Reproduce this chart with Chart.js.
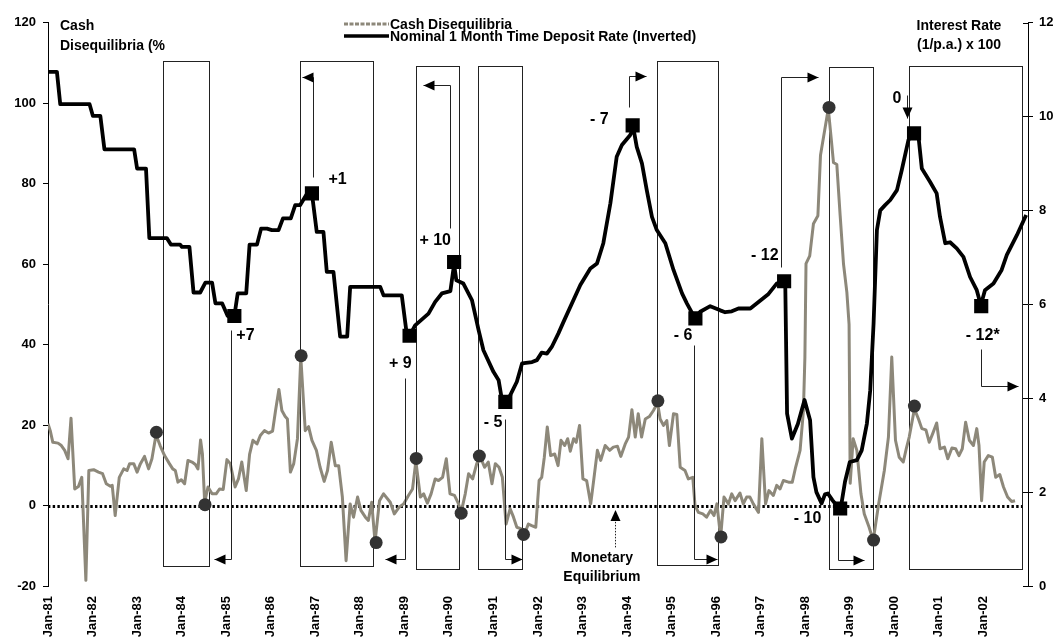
<!DOCTYPE html>
<html>
<head>
<meta charset="utf-8">
<script src="https://cdn.jsdelivr.net/npm/chart.js@4.4.1/dist/chart.umd.min.js"></script>
<style>
  html, body { margin: 0; padding: 0; background: #fff; }
  canvas { display: block; }
</style>
</head>
<body>
<canvas id="chart" width="1055" height="641"></canvas>
<script>
// x values are months counted from Jan-81
const yearLabels = ['Jan-81','Jan-82','Jan-83','Jan-84','Jan-85','Jan-86','Jan-87','Jan-88','Jan-89','Jan-90','Jan-91',
  'Jan-92','Jan-93','Jan-94','Jan-95','Jan-96','Jan-97','Jan-98','Jan-99','Jan-00','Jan-01','Jan-02'];

// Cash Disequilibria (%), left axis
const cashMonths = [0,0.6,1.3,2.7,3.6,4.5,5.4,6.2,7.2,8.2,9.1,10.2,11.0,12.3,13.6,14.7,15.7,16.8,17.3,18.1,19.2,20.4,21.3,22.0,23.1,24.0,24.9,26.0,27.1,28.0,
  29.1,30.2,31.4,32.7,33.6,34.3,35.0,35.9,36.8,37.7,38.8,39.7,40.4,41.1,41.6,42.2,43.1,44.2,45.3,46.2,47.2,48.2,49.1,50.4,51.3,52.2,53.4,54.3,55.2,56.3,
  57.2,58.3,59.4,60.5,61.3,62.2,63.0,63.9,64.5,65.3,66.2,67.2,68.1,69.3,70.2,71.1,72.3,73.3,74.4,75.3,76.3,77.4,78.3,79.3,80.3,81.4,82.3,83.4,84.3,85.5,
  86.3,87.2,88.1,89.3,90.4,92.2,93.3,94.6,95.8,97.1,98.2,99.1,100.3,101.2,102.2,103.2,104.3,105.2,106.3,107.3,108.3,109.5,110.6,111.3,112.4,113.3,114.4,115.5,116.4,117.6,
  118.6,119.6,120.5,121.5,122.4,123.4,124.5,125.4,126.3,127.5,128.4,129.4,130.3,131.4,132.3,133.0,133.7,134.5,135.4,136.5,137.4,138.2,139.2,140.0,140.7,141.6,142.3,143.2,144.1,145.1,
  146.2,147.1,148.0,148.9,150.1,151.3,152.3,153.4,154.3,155.5,156.4,157.3,158.2,159.0,159.9,160.9,162.0,163.1,164.2,164.9,165.8,166.7,167.4,168.5,169.4,170.3,171.6,172.5,173.7,174.3,
  175.2,176.4,177.4,178.5,179.4,180.2,181.2,182.1,183.3,184.2,185.1,186.4,187.3,188.2,189.1,190.0,191.4,192.3,193.3,194.2,195.4,196.3,197.2,198.1,199.5,200.5,201.4,202.6,203.5,203.9,
  204.2,205.2,206.2,207.4,208.1,208.9,210.2,211.0,211.6,212.5,213.4,214.3,215.2,215.8,216.1,216.9,217.9,219.0,219.9,221.2,222.3,223.7,225.3,226.4,227.3,228.3,229.3,230.4,231.2,232.0,
  233.4,234.5,235.4,236.5,237.4,238.3,239.4,240.3,241.5,242.4,243.5,244.5,245.4,246.3,247.2,248.2,249.3,250.2,250.8,251.5,252.2,253.3,254.4,255.3,256.4,257.4,258.5,259.6,260.5];
const cashValues = [20.3,18.6,15.7,15.5,14.9,13.7,11.6,21.7,4.1,4.7,7.0,-18.6,8.7,8.9,8.3,7.9,5.4,4.8,5.0,-2.5,7.0,9.1,8.7,10.4,10.4,8.3,10.4,12.2,9.1,11.6,
  17.6,14.9,12.4,10.4,9.1,8.7,5.8,6.4,5.4,11.2,10.8,10.2,9.1,16.3,12.8,0.8,4.6,2.9,2.9,4.1,4.0,11.4,10.4,4.6,6.6,10.8,3.7,12.7,16.2,15.3,
  17.4,18.6,18.0,18.5,23.6,28.8,23.6,22.1,21.5,8.3,10.4,16.6,36.9,18.6,19.6,16.2,13.7,9.5,6.0,8.7,15.7,9.9,9.9,2.1,-13.7,0.4,-2.9,2.1,-1.2,-2.9,
  -3.7,0.8,-9.1,1.2,2.9,0.8,-2.1,-0.4,0.4,2.5,4.1,11.0,2.1,2.9,0.6,2.9,6.6,6.2,7.0,11.6,2.9,2.5,0.4,-1.7,2.9,7.9,6.6,10.4,12.2,9.5,
  10.8,5.4,10.4,9.5,7.0,-4.6,-0.8,-2.9,-5.4,-5.8,-7.0,-4.6,-5.0,-5.4,6.2,7.0,12.0,19.5,12.4,12.8,9.9,16.2,14.9,16.6,13.5,16.6,15.7,19.9,6.6,6.2,
  0.4,7.0,13.7,11.2,14.9,13.7,14.5,14.7,12.2,15.3,17.0,23.8,17.0,22.8,17.0,21.5,22.1,23.6,25.5,21.5,19.9,21.1,14.9,22.8,22.6,9.5,8.7,6.6,7.0,0.0,
  -1.7,-2.1,-2.9,-1.2,-2.5,0.4,-7.9,2.1,0.4,2.9,1.2,3.1,0.4,2.1,2.1,0.4,-1.7,16.6,0.4,3.7,2.5,5.0,4.1,6.2,5.8,5.8,9.5,13.7,23.6,36.9,
  60.1,62.0,70.0,72.0,87.0,91.4,98.6,91.0,85.2,84.7,72.0,60.0,53.0,45.0,5.5,16.6,13.7,2.9,-2.1,-5.4,-8.7,0.0,8.7,17.0,36.9,16.2,12.0,10.8,14.1,17.0,
  24.0,21.5,19.1,18.8,15.7,17.8,20.5,14.1,14.5,11.6,14.3,14.1,12.4,14.1,20.7,16.2,14.9,19.1,14.9,1.2,10.8,12.4,12.0,7.0,7.7,4.6,2.1,1.0,1.2];

// Nominal 1 month time deposit rate, inverted: (1/p.a.) x 100, right axis
const rateMonths = [0,2.4,3.3,11.2,12.1,14.1,15.2,23.2,24.0,26.4,27.3,32.0,33.1,35.6,36.1,38.1,39.2,41.0,42.4,44.2,45.1,46.9,48.4,50.2,51.1,53.4,54.3,56.3,57.4,59.0,
  60.3,62.1,63.3,65.4,66.6,67.9,69.8,71.1,72.4,74.2,75.1,76.9,78.7,80.6,81.4,89.5,90.4,95.3,96.7,97.4,98.9,102.5,104.3,106.1,108.4,108.8,109.4,110.0,111.9,114.2,
  116.0,117.3,120.0,121.4,122.3,123.2,124.5,126.3,127.7,130.4,131.7,133.0,134.4,135.7,137.5,138.9,143.4,146.1,147.9,149.6,151.5,153.2,154.6,156.8,157.7,158.6,160.0,161.3,162.7,164.0,
  166.3,168.5,170.8,172.1,174.3,175.7,178.4,181.1,182.4,184.2,186.0,189.2,191.4,194.1,196.3,198.6,199.1,200.4,202.0,203.8,205.3,206.2,207.0,208.4,209.3,210.1,211.3,212.4,213.6,214.7,
  216.0,217.9,219.2,220.6,221.5,222.4,223.3,224.2,225.5,226.9,228.7,230.0,231.8,233.1,234.0,234.5,235.4,237.6,239.4,240.3,241.7,243.0,244.8,246.6,248.4,250.2,251.3,252.4,254.7,256.9,
  258.3,261.0,263.5];
const rateValues = [10.95,10.95,10.26,10.26,10.01,10.01,9.30,9.30,8.89,8.89,7.41,7.41,7.27,7.27,7.22,7.22,6.25,6.25,6.46,6.46,6.02,6.02,5.75,5.75,6.23,6.23,7.27,7.27,7.61,7.61,
  7.58,7.58,7.83,7.83,8.11,8.11,8.36,8.36,7.54,7.54,6.69,6.69,5.31,5.31,6.37,6.37,6.19,6.19,5.33,5.33,5.55,5.80,6.05,6.23,6.28,6.51,6.85,6.51,6.44,6.09,
  5.45,5.02,4.56,4.38,3.96,3.92,4.06,4.35,4.74,4.77,4.81,4.97,4.95,5.09,5.38,5.63,6.41,6.76,6.87,7.30,8.15,9.14,9.39,9.60,9.75,9.35,9.00,8.43,7.86,7.58,
  7.30,6.73,6.23,6.02,5.70,5.84,5.96,5.87,5.83,5.85,5.91,5.91,6.05,6.22,6.44,6.50,3.67,3.14,3.45,3.96,3.53,2.32,2.00,1.76,1.95,1.97,1.83,1.72,1.68,2.22,
  2.64,2.68,2.89,3.46,4.17,5.59,7.58,8.00,8.11,8.22,8.43,8.86,9.50,9.67,9.64,9.57,8.89,8.61,8.36,7.86,7.30,7.32,7.19,7.01,6.58,6.30,5.98,6.30,6.44,6.73,
  7.05,7.47,7.90];

// turning points
const cashTurnMonths = [29.2,42.3,68.2,88.4,99.2,111.3,116.2,128.1,164.3,181.3,210.4,222.4,233.4];
const cashTurnValues = [18.2,0.2,37.2,-9.2,11.7,-1.9,12.3,-7.2,26.0,-7.8,98.9,-8.6,24.7];
const rateTurnMonths = [50.2,71.1,97.4,109.4,123.2,157.5,174.4,198.3,213.4,233.3,251.4];
const rateTurnValues = [5.75,8.36,5.33,6.90,3.92,9.81,5.70,6.49,1.65,9.64,5.96];

// lead / lag annotations, in axis units (month, left-axis value)
const boxes = [
  [30.9, 43.5, 110.4, -15.1], [67.9, 87.5, 110.4, -15.1], [99.1, 110.7, 109.3, -15.85],
  [115.9, 127.8, 109.3, -15.85], [164.0, 180.5, 110.4, -14.7], [210.5, 222.3, 109.0, -15.85],
  [231.9, 262.4, 109.3, -15.85]
];
const arrows = [
  [[49.4, 43.5], [49.4, -13.4], [44.6, -13.4]],
  [[71.5, 81.6], [71.5, 106.5], [68.5, 106.5]],
  [[108.4, 69.0], [108.4, 104.4], [101.0, 104.4]],
  [[96.2, 31.8], [96.2, -13.4], [90.7, -13.4]],
  [[123.2, 21.4], [123.2, -13.4], [127.7, -13.4]],
  [[156.4, 99.0], [156.4, 106.7], [161.1, 106.7]],
  [[173.9, 39.8], [173.9, -13.4], [180.2, -13.4]],
  [[197.4, 59.2], [197.4, 106.5], [207.5, 106.5]],
  [[231.5, 102.0], [231.5, 96.3]],
  [[212.7, -2.5], [212.7, -13.5], [219.7, -13.5]],
  [[251.4, 39.0], [251.4, 29.7], [261.4, 29.7]]
];
const notes = [
  ['+7', 53.2, 42.3], ['+1', 78.0, 81.0], ['+ 10', 104.3, 65.9], ['+ 9', 94.9, 35.3],
  ['- 5', 119.9, 20.5], ['- 7', 148.5, 96.0], ['- 6', 171.1, 42.3], ['- 12', 193.1, 62.2],
  ['0', 228.7, 101.2], ['- 10', 204.6, -3.2], ['- 12*', 251.8, 42.3]
];
const equilibriumNote = ['Monetary', 'Equilibrium'];

const FONT = "'Liberation Sans', Arial, sans-serif";

function toXY(ms, vs) {
  return ms.map((m, i) => ({ x: m, y: vs[i] }));
}

function arrowHead(ctx, x0, y0, x1, y1) {
  const a = Math.atan2(y1 - y0, x1 - x0);
  const len = 11, half = 5;
  ctx.beginPath();
  ctx.moveTo(x1, y1);
  ctx.lineTo(x1 - len * Math.cos(a) + half * Math.sin(a), y1 - len * Math.sin(a) - half * Math.cos(a));
  ctx.lineTo(x1 - len * Math.cos(a) - half * Math.sin(a), y1 - len * Math.sin(a) + half * Math.cos(a));
  ctx.closePath();
  ctx.fill();
}

const notesPlugin = {
  id: 'notes',
  beforeDatasetsDraw(chart) {
    const { ctx, scales: { x, y } } = chart;
    ctx.save();
    ctx.strokeStyle = '#222';
    ctx.lineWidth = 1;
    boxes.forEach(b => {
      const x0 = Math.round(x.getPixelForValue(b[0])) + 0.5;
      const x1 = Math.round(x.getPixelForValue(b[1])) + 0.5;
      const y0 = Math.round(y.getPixelForValue(b[2])) + 0.5;
      const y1 = Math.round(y.getPixelForValue(b[3])) + 0.5;
      ctx.strokeRect(x0, y0, x1 - x0, y1 - y0);
    });
    // monetary equilibrium (zero) line
    const zy = Math.round(y.getPixelForValue(0)) + 0.5;
    ctx.strokeStyle = '#000';
    ctx.lineWidth = 3;
    ctx.setLineDash([2.4, 2.3]);
    ctx.beginPath();
    ctx.moveTo(x.getPixelForValue(0), zy);
    ctx.lineTo(x.getPixelForValue(262.5), zy);
    ctx.stroke();
    ctx.restore();
  },
  afterDatasetsDraw(chart) {
    const { ctx, scales: { x, y } } = chart;
    ctx.save();
    ctx.strokeStyle = '#222';
    ctx.fillStyle = '#000';
    ctx.lineWidth = 1;
    arrows.forEach(pts => {
      const p = pts.map(q => [Math.round(x.getPixelForValue(q[0])) + 0.5, Math.round(y.getPixelForValue(q[1])) + 0.5]);
      ctx.beginPath();
      ctx.moveTo(p[0][0], p[0][1]);
      for (let i = 1; i < p.length; i++) ctx.lineTo(p[i][0], p[i][1]);
      ctx.stroke();
      const n = p.length;
      arrowHead(ctx, p[n - 2][0], p[n - 2][1], p[n - 1][0], p[n - 1][1]);
    });
    ctx.font = 'bold 16px ' + FONT;
    ctx.textAlign = 'center';
    ctx.textBaseline = 'middle';
    notes.forEach(n => ctx.fillText(n[0], x.getPixelForValue(n[1]), y.getPixelForValue(n[2])));

    // monetary equilibrium pointer
    const ex = Math.round(x.getPixelForValue(152.8)) + 0.5;
    ctx.setLineDash([1.5, 1.5]);
    ctx.beginPath();
    ctx.moveTo(ex, y.getPixelForValue(-10.4));
    ctx.lineTo(ex, y.getPixelForValue(-3.5));
    ctx.stroke();
    ctx.setLineDash([]);
    arrowHead(ctx, ex, y.getPixelForValue(-10.4), ex, y.getPixelForValue(-1.1));
    ctx.font = 'bold 14px ' + FONT;
    ctx.fillText(equilibriumNote[0], x.getPixelForValue(149.2), y.getPixelForValue(-13.1));
    ctx.fillText(equilibriumNote[1], x.getPixelForValue(149.2), y.getPixelForValue(-17.7));
    ctx.restore();
  },
  afterDraw(chart) {
    const { ctx, scales: { y1 } } = chart;
    ctx.save();
    // inner half of the right axis tick marks
    ctx.strokeStyle = '#000';
    ctx.lineWidth = 1;
    y1.ticks.forEach(t => {
      const py = Math.round(y1.getPixelForValue(t.value)) + 0.5;
      ctx.beginPath();
      ctx.moveTo(y1.left - 5, py);
      ctx.lineTo(y1.left, py);
      ctx.stroke();
    });
    // axis titles
    ctx.fillStyle = '#000';
    ctx.font = 'bold 14px ' + FONT;
    ctx.textBaseline = 'middle';
    ctx.textAlign = 'left';
    ctx.fillText('Cash', 60, 26);
    ctx.fillText('Disequilibria (%', 60, 46);
    ctx.textAlign = 'center';
    ctx.fillText('Interest Rate', 959, 26);
    ctx.fillText('(1/p.a.) x 100', 959, 45);
    // legend
    const ds = chart.data.datasets;
    ctx.textAlign = 'left';
    ctx.lineWidth = 3;
    ctx.strokeStyle = ds[3].borderColor;
    ctx.setLineDash([4, 1.5]);
    ctx.beginPath(); ctx.moveTo(344, 24); ctx.lineTo(389, 24); ctx.stroke();
    ctx.setLineDash([]);
    ctx.lineWidth = 3.5;
    ctx.strokeStyle = ds[1].borderColor;
    ctx.beginPath(); ctx.moveTo(344, 36); ctx.lineTo(389, 36); ctx.stroke();
    ctx.fillText(ds[3].label, 390, 25);
    ctx.fillText(ds[1].label, 390, 37.5);
    ctx.restore();
  }
};

const tickFont = { family: FONT, size: 13, weight: 'bold' };

new Chart(document.getElementById('chart'), {
  type: 'line',
  data: {
    datasets: [
      {
        label: 'Rate turning points',
        data: toXY(rateTurnMonths, rateTurnValues),
        yAxisID: 'y1',
        showLine: false,
        pointStyle: 'rect',
        pointRadius: 10,
        pointBackgroundColor: '#000',
        pointBorderWidth: 0,
      },
      {
        label: 'Nominal 1 Month Time Deposit Rate (Inverted)',
        data: toXY(rateMonths, rateValues),
        yAxisID: 'y1',
        borderColor: '#000',
        borderWidth: 3.8,
        borderJoinStyle: 'round',
        pointRadius: 0,
        tension: 0,
      },
      {
        label: 'Cash turning points',
        data: toXY(cashTurnMonths, cashTurnValues),
        yAxisID: 'y',
        showLine: false,
        pointStyle: 'circle',
        pointRadius: 6.5,
        pointBackgroundColor: '#333',
        pointBorderWidth: 0,
      },
      {
        label: 'Cash Disequilibria',
        data: toXY(cashMonths, cashValues),
        yAxisID: 'y',
        borderColor: '#8d887a',
        borderWidth: 3,
        borderJoinStyle: 'round',
        pointRadius: 0,
        tension: 0,
      }
    ]
  },
  options: {
    responsive: false,
    animation: false,
    layout: { padding: { top: 22.5, left: 0, right: 0, bottom: 0 } },
    plugins: { legend: { display: false }, tooltip: { enabled: false } },
    scales: {
      x: {
        type: 'linear',
        min: 0,
        max: 264,
        grid: { display: false, drawTicks: false },
        border: { display: false },
        ticks: {
          stepSize: 12,
          autoSkip: false,
          minRotation: 90,
          maxRotation: 90,
          padding: 10,
          color: '#000',
          font: tickFont,
          callback: v => yearLabels[v / 12] || ''
        },
        afterFit: s => { s.height = 55; }
      },
      y: {
        position: 'left',
        min: -20,
        max: 120,
        grid: { drawOnChartArea: false, tickLength: 5, color: '#000' },
        border: { display: true, color: '#000', width: 1 },
        ticks: { stepSize: 20, padding: 7, color: '#000', font: tickFont },
        afterFit: s => { s.width = 48; }
      },
      y1: {
        position: 'right',
        min: 0,
        max: 12,
        grid: { drawOnChartArea: false, tickLength: 5, color: '#000' },
        border: { display: true, color: '#000', width: 1 },
        ticks: { stepSize: 2, padding: 6, color: '#000', font: tickFont },
        afterFit: s => { s.width = 27; }
      }
    }
  },
  plugins: [notesPlugin]
});
</script>
</body>
</html>
